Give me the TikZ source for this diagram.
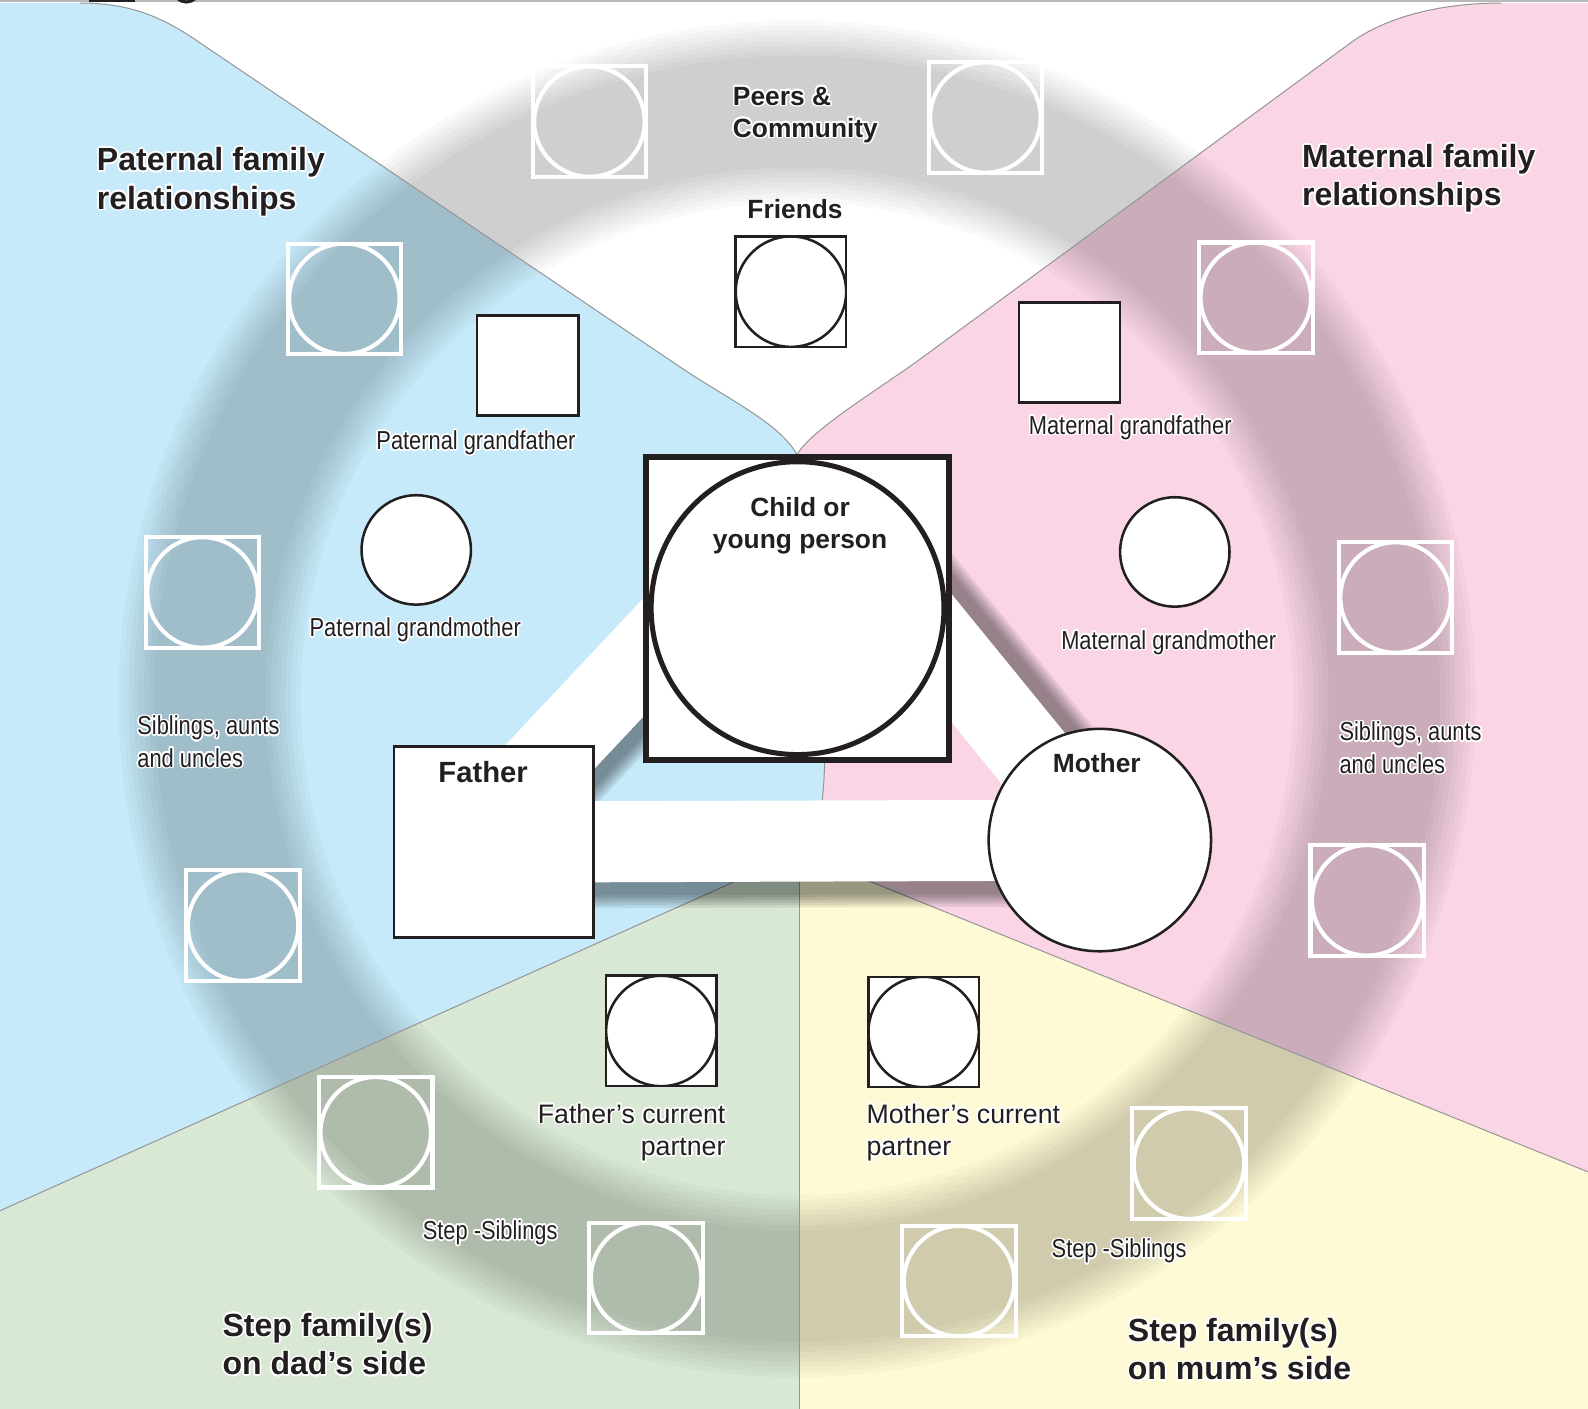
\documentclass[tikz,border=0pt]{standalone}
\usepackage{fontspec}
\setmainfont{Liberation Sans}
\newfontfamily\narrowfont[FakeStretch=0.84]{Liberation Sans}
\usepackage{contour}
\contourlength{0.45pt}
\usetikzlibrary{calc}
\definecolor{ink}{RGB}{35,31,32}
\definecolor{patblue}{RGB}{198,234,249}
\definecolor{matpink}{RGB}{249,213,230}
\definecolor{dadgreen}{RGB}{216,232,212}
\definecolor{mumyellow}{RGB}{254,250,213}
\definecolor{seam}{RGB}{150,150,150}
\newcommand{\hl}[1]{\contour{white}{#1}}
\pgfdeclarelayer{sectors}
\pgfdeclarelayer{bars}
\pgfsetlayers{sectors,bars,main}
\tikzset{
  ghost/.style={draw=white, line width=0.04cm, minimum width=1.12cm, minimum height=1.09cm, inner sep=0pt,
    path picture={\draw[white, line width=0.04cm] (path picture bounding box.center) circle (0.545cm);}},
  photo/.style={draw=ink, fill=white, line width=0.025cm, minimum width=1.09cm, minimum height=1.09cm, inner sep=0pt,
    path picture={\draw[ink, line width=0.025cm] (path picture bounding box.center) circle (0.545cm);}},
  malebox/.style={draw=ink, fill=white, line width=0.025cm, minimum width=1.0cm, minimum height=0.99cm, inner sep=0pt},
  femalecirc/.style={circle, draw=ink, fill=white, line width=0.025cm, minimum size=1.08cm, inner sep=0pt},
  childbox/.style={draw=ink, fill=white, line width=0.06cm, minimum size=2.99cm, inner sep=0pt,
    path picture={\draw[ink, line width=0.05cm] (path picture bounding box.center) circle (1.445cm);}},
  fatherbox/.style={draw=ink, fill=white, line width=0.025cm, minimum width=1.965cm, minimum height=1.885cm, inner sep=0pt},
  mothercirc/.style={circle, draw=ink, fill=white, line width=0.025cm, minimum size=2.195cm, inner sep=0pt},
  bar/.style={white, line width=0.8cm},
  barshade/.style={black, opacity=0.08},
  title/.style={text=ink, font=\bfseries\fontsize{9}{10.8}\selectfont, align=left, inner sep=0pt},
  midlbl/.style={text=ink, font=\bfseries\fontsize{7.4}{9}\selectfont, align=center, inner sep=0pt},
  smalllbl/.style={text=ink, font=\narrowfont\fontsize{7.3}{9.1}\selectfont, inner sep=0pt},
  partlbl/.style={text=ink, font=\fontsize{7.5}{9.1}\selectfont, inner sep=0pt},
  seamline/.style={seam, line width=0.01cm}
}
\begin{document}
\begin{tikzpicture}[x=0.01cm, y=-0.01cm]
\useasboundingbox (0,0) rectangle (1568,1391);

\begin{pgfonlayer}{sectors}
\fill[white] (0,0) rectangle (1568,1391);
\fill[patblue] (-10,3) -- (79,3) .. controls (124,3) and (157,14) .. (197,42) -- (671,362)
  .. controls (720,395) and (770,418) .. (787,449) .. controls (800,560) and (822,690) .. (812,790)
  -- (789,842) -- (-10,1200) -- cycle;
\fill[matpink] (787,449) .. controls (800,425) and (868,384) .. (908,355) -- (1334,42)
  .. controls (1374,13) and (1432,3) .. (1482,3) -- (1580,3) -- (1580,1163) -- (789,842) -- (812,790)
  .. controls (822,690) and (800,560) .. (787,449) -- cycle;
\fill[dadgreen] (789,842) -- (-10,1200) -- (-10,1400) -- (789,1400) -- cycle;
\fill[mumyellow] (789,842) -- (789,1400) -- (1580,1400) -- (1580,1162) -- cycle;
\foreach \w in {110,120,...,180}
  \draw[black, opacity=0.025, line width=\w*0.01cm] (787,690) circle (580);
\draw[seamline] (79,3) .. controls (124,3) and (157,14) .. (197,42) -- (671,362)
  .. controls (720,395) and (770,418) .. (787,449);
\draw[seamline] (787,449) .. controls (800,425) and (868,384) .. (908,355) -- (1334,42)
  .. controls (1374,13) and (1432,3) .. (1482,3);
\draw[seamline] (787,449) .. controls (800,560) and (822,690) .. (812,790);
\draw[seamline] (789,842) -- (-10,1200);
\draw[seamline] (789,842) -- (789,1400);
\draw[seamline] (789,842) -- (1580,1162);
\draw[gray!55, line width=0.02cm] (0,1) -- (1568,1);
\fill[ink] (88,0) rectangle (133,1.6);
\draw[ink, line width=0.03cm] (184,-11) circle (13);
\end{pgfonlayer}

\node[childbox] (child) at (787.5,600.5) {};
\node[fatherbox] (father) at (487.5,831.5) {};
\node[mothercirc] (mother) at (1086,829.5) {};
\node[photo] (friends) at (781,288) {};
\node[malebox] (patgf) at (521,361) {};
\node[malebox] (matgf) at (1056,348) {};
\node[femalecirc] (patgm) at (411,543) {};
\node[femalecirc] (matgm) at (1160,545) {};
\node[photo] (dadpartner) at (653,1018) {};
\node[photo] (mumpartner) at (912,1019) {};
\foreach \n/\x/\y in {peers1/582/120, peers2/973/116, patkin1/340/295, patkin2/200/585,
    patkin3/240/914, matkin1/1240/294, matkin2/1378/590, matkin3/1350/889,
    dadstep1/371/1118, dadstep2/638/1262, mumstep1/1174/1149, mumstep2/947/1265}
  \node[ghost] (\n) at (\x,\y) {};

\begin{pgfonlayer}{bars}
\foreach \k in {0,...,5} {
  \draw[barshade, line width=0.8cm+\k*0.05cm, shorten <=-0.6cm]
    ($(child.west)+(9.5,57.9)$) -- ($(father.center)+(9.5,-16.1)$);
  \draw[barshade, line width=0.8cm+\k*0.05cm, shorten <=-0.9cm]
    ($(child.east)+(9.9,41.6)$) -- ($(mother.center)+(9.9,-8.4)$);
  \draw[barshade, line width=0.8cm+\k*0.05cm]
    ($(father.center)+(0,13)$) -- ($(mother.center)+(0,13)$);
}
\draw[bar, shorten <=-0.6cm] ($(child.west)+(0,49)$) -- ($(father.center)+(0,-25)$);
\draw[bar, shorten <=-0.6cm] ($(child.east)+(0,50)$) -- (mother.center);
\draw[bar] (father.center) -- (mother.center);
\end{pgfonlayer}

\node[title, anchor=west] (pattitle) at (95,180) {\hl{Paternal family}\\\hl{relationships}};
\node[title, anchor=west] (mattitle) at (1285,177) {\hl{Maternal family}\\\hl{relationships}};
\node[title, anchor=west] (dadtitle) at (219,1328) {\hl{Step family(s)}\\\hl{on dad’s side}};
\node[title, anchor=west] (mumtitle) at (1113,1333) {\hl{Step family(s)}\\\hl{on mum’s side}};
\node[midlbl, anchor=west, align=left] (peerslbl) at (723,114) {\hl{Peers \&}\\\hl{Community}};
\node[midlbl] (friendslbl) at (785,206) {Friends};
\node[midlbl] (childlbl) at (790,519) {Child or\\young person};
\node[midlbl, font=\bfseries\fontsize{8.2}{9.8}\selectfont] (fatherlbl) at (477,762) {Father};
\node[midlbl] (motherlbl) at (1083,753) {Mother};
\node[smalllbl] (patgflbl) at (470,438) {\hl{Paternal grandfather}};
\node[smalllbl] (patgmlbl) at (410,623) {\hl{Paternal grandmother}};
\node[smalllbl] (matgflbl) at (1116,423) {\hl{Maternal grandfather}};
\node[smalllbl] (matgmlbl) at (1154,635) {\hl{Maternal grandmother}};
\node[smalllbl, anchor=west, align=left] (patkinlbl) at (135,733) {\hl{Siblings, aunts}\\\hl{and uncles}};
\node[smalllbl, anchor=west, align=left] (matkinlbl) at (1322,739) {\hl{Siblings, aunts}\\\hl{and uncles}};
\node[smalllbl] (dadsteplbl) at (484,1218) {\hl{Step -Siblings}};
\node[smalllbl] (mumsteplbl) at (1105,1236) {\hl{Step -Siblings}};
\node[partlbl, anchor=east, align=right] (dadpartlbl) at (717,1119) {\hl{Father’s current}\\\hl{partner}};
\node[partlbl, anchor=west, align=left] (mumpartlbl) at (855,1119) {\hl{Mother’s current}\\\hl{partner}};
\end{tikzpicture}
\end{document}
